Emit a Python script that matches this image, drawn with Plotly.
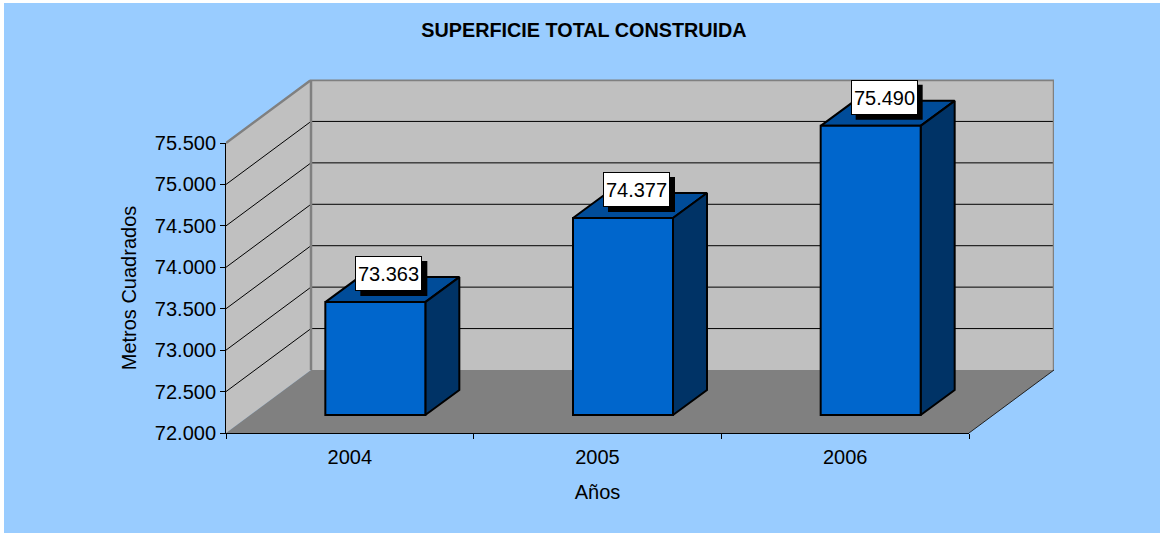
import plotly.graph_objects as go

# ---- data
years = ["2004", "2005", "2006"]
values = [73363, 74377, 75490]
y_ticks = [72000, 72500, 73000, 73500, 74000, 74500, 75000, 75500]
title_text = "SUPERFICIE TOTAL CONSTRUIDA"
x_title = "Años"
y_title = "Metros Cuadrados"

# ---- page geometry (pixels)
W, H = 1160, 533
AX_L, AX_R, AX_B, AX_T = 226, 969, 433, 143
WALL_R, WALL_T = 1054, 79.5
Y_MIN, Y_MAX = 72000, 75500

cat_px = (AX_R - AX_L) / 3
val_px = (AX_B - AX_T) / (Y_MAX - Y_MIN)
px_x = lambda p: p / cat_px          # pixels -> category units
px_y = lambda p: p / val_px          # pixels -> value units

DX, DY = px_x(WALL_R - AX_R), px_y(AX_B - 370)
XL, XR = -0.5, 2.5
XB, YB = XR + DX, Y_MAX + DY

# bars: position within the depth of the floor
BAR_W = 100 / cat_px
BAR_SHIFT_X = px_x(25.5)
BAR_BASE = px_y(18)
BAR_DX, BAR_DY = px_x(34), px_y(25)

FONT = "Liberation Sans, Arial, sans-serif"
FS = 20
BLUE, TOP, SIDE = "#0066CC", "#004C99", "#003366"
WALL, FLOOR, EDGE = "#C0C0C0", "#808080", "#808080"

fig = go.Figure()


def poly(xs, ys, fill, line=None, width=0):
    fig.add_trace(go.Scatter(x=xs, y=ys, mode="lines", fill="toself", fillcolor=fill,
                             line=dict(color=line or fill, width=width), hoverinfo="skip",
                             showlegend=False, xaxis="x", yaxis="y"))


def lines(xs, ys, color, width):
    fig.add_trace(go.Scatter(x=xs, y=ys, mode="lines", line=dict(color=color, width=width),
                             hoverinfo="skip", showlegend=False, xaxis="x", yaxis="y"))


# walls and floor
poly([XL, XL + DX, XL + DX, XL], [Y_MIN, Y_MIN + DY, YB, Y_MAX], WALL)
poly([XL + DX, XB, XB, XL + DX], [Y_MIN + DY, Y_MIN + DY, YB, YB], WALL)
poly([XL, XR, XB, XL + DX], [Y_MIN, Y_MIN, Y_MIN + DY, Y_MIN + DY], FLOOR)

# gridlines on the walls
gx, gy = [], []
for v in y_ticks[1:-1]:
    gx += [XL, XL + DX, XB, None]
    gy += [v, v + DY, v + DY, None]
lines(gx, gy, "#000000", 1)

# wall edges
lines([XL, XL + DX, XB, XB], [Y_MAX, YB, YB, Y_MIN + DY], EDGE, 2.5)
lines([XL + DX, XL + DX], [YB, Y_MIN + DY], EDGE, 2.5)
lines([XR, XB], [Y_MIN, Y_MIN + DY], "#202020", 1)

# bar top and side faces
for i, v in enumerate(values):
    l = i - BAR_W / 2 + BAR_SHIFT_X
    r = l + BAR_W
    top = v + BAR_BASE
    bot = Y_MIN + BAR_BASE
    poly([l, r, r + BAR_DX, l + BAR_DX, l], [top, top, top + BAR_DY, top + BAR_DY, top], TOP, "#000000", 2)
    poly([r, r + BAR_DX, r + BAR_DX, r, r], [bot, bot + BAR_DY, top + BAR_DY, top, bot], SIDE, "#000000", 2)

# bar front faces on the category axis
fig.add_trace(go.Bar(x=years, y=[v - Y_MIN for v in values], base=Y_MIN + BAR_BASE,
                     width=BAR_W, offset=-BAR_W / 2 + BAR_SHIFT_X,
                     marker=dict(color=BLUE, line=dict(color="#000000", width=2)),
                     showlegend=False, xaxis="x2", yaxis="y", hoverinfo="skip"))

# carries the visible value axis and category axis (nothing drawn)
fig.add_trace(go.Scatter(x=years, y=values, mode="markers", marker=dict(size=1, opacity=0),
                         showlegend=False, hoverinfo="skip", xaxis="x2", yaxis="y2"))

# data labels
LBL_X, LBL_Y = px_x(39), px_y(28.5)
BOX_W, BOX_H = 67, 35
shapes = [dict(type="rect", xref="paper", yref="paper", x0=4 / W, x1=1, y0=0, y1=1 - 3 / H,
               fillcolor="#99CCFF", line_width=0, layer="below")]
annotations = []
for i, v in enumerate(values):
    cx = i + LBL_X
    cy = v + BAR_BASE + LBL_Y
    shapes.append(dict(type="rect", xref="x", yref="y", layer="above", line_width=0, fillcolor="#000000",
                       x0=cx + px_x(5 - BOX_W / 2), x1=cx + px_x(5 + BOX_W / 2),
                       y0=cy - px_y(5 + BOX_H / 2), y1=cy + px_y(BOX_H / 2 - 5)))
    annotations.append(dict(x=cx, y=cy, xref="x", yref="y", showarrow=False,
                            text=f"{v:,}".replace(",", "."), width=BOX_W - 2, height=BOX_H - 2,
                            bgcolor="#FFFFFF", bordercolor="#000000", borderwidth=1, borderpad=0,
                            font=dict(family=FONT, size=FS, color="#000000")))

tick_font = dict(family=FONT, size=FS, color="#000000")
fig.update_layout(
    width=W, height=H, autosize=False,
    margin=dict(l=0, r=0, t=0, b=0),
    paper_bgcolor="#FFFFFF", plot_bgcolor="rgba(0,0,0,0)",
    separators=",.", showlegend=False, barmode="overlay",
    title=dict(text=f"<b>{title_text}</b>", x=584 / W, y=1 - 30 / H, xanchor="center", yanchor="middle",
               xref="paper", yref="paper", font=dict(family=FONT, size=19.8, color="#000000")),
    xaxis=dict(visible=False, domain=[AX_L / W, WALL_R / W], range=[XL, XB], anchor="y", automargin=False),
    yaxis=dict(visible=False, domain=[1 - AX_B / H, 1 - WALL_T / H],
               range=[Y_MIN, Y_MIN + px_y(AX_B - WALL_T)], anchor="x", automargin=False),
    xaxis2=dict(domain=[AX_L / W, AX_R / W], type="category", categoryorder="array", categoryarray=years,
                range=[-0.5, 2.5], anchor="y2", tickson="boundaries", ticks="outside", ticklen=5,
                tickcolor="#000000", tickwidth=1, showline=True, linecolor="#000000", linewidth=1,
                showgrid=False, zeroline=False, tickfont=tick_font, ticklabelstandoff=6, automargin=False,
                title=dict(text=x_title, font=tick_font, standoff=17)),
    yaxis2=dict(domain=[1 - AX_B / H, 1 - AX_T / H], range=[Y_MIN, Y_MAX], anchor="x2", tickmode="array",
                tickvals=y_ticks, tickformat=",d", ticks="outside", ticklen=5, tickcolor="#000000",
                tickwidth=1, showline=True, linecolor="#000000", linewidth=1, showgrid=False,
                zeroline=False, tickfont=tick_font, ticklabelstandoff=0, automargin=False,
                title=dict(text=y_title, font=tick_font, standoff=12)),
    shapes=shapes, annotations=annotations,
)

fig.write_html("out.html", post_script="document.body.style.margin='0';document.body.style.overflow='hidden';",
               config=dict(displayModeBar=False))
